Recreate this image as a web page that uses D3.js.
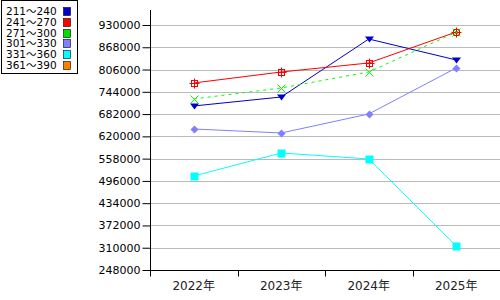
<!DOCTYPE html>
<html>
<head>
<meta charset="utf-8">
<script src="https://cdn.jsdelivr.net/npm/d3@7"></script>
<style>
  body { margin: 0; background: #fff; }
  svg { display: block; font-family: "DejaVu Sans", "Noto Sans CJK JP", sans-serif; }
</style>
</head>
<body>
<svg id="chart" width="500" height="300"></svg>
<script>
"use strict";

// categories and values
const years = ["2022年", "2023年", "2024年", "2025年"];
const yTicks = [248000, 310000, 372000, 434000, 496000, 558000, 620000, 682000, 744000, 806000, 868000, 930000];

const seriesNames = ["211～240", "241～270", "271～300", "301～330", "331～360", "361～390"];
const seriesColors = ["#0000cc", "#ff0000", "#00dd00", "#8080ff", "#00ffff", "#ff8000"];

const s211 = [704600, 729600, 891000, 832600];
const s241 = [768600, 799200, 824300, 910600];
const s271 = [724100, 754700, 799200, 910000];
const s301 = [640500, 629400, 682300, 810400];
const s331 = [509700, 573700, 557000, 314800];
const s361 = [];

const seriesValues = [s211, s241, s271, s301, s331, s361];
const markers = ["triDown", "squarePlus", "cross", "diamond", "square", "none"];

const svg = d3.select("#chart");
const plotLeft = 150, plotRight = 500, plotBottom = 270, plotTop = 10;

const x = d3.scaleBand().domain(years).range([plotLeft, plotRight]);
// 11 steps of 62000 between 248000 and 930000 span 245 px
const y = d3.scaleLinear().domain([248000, 930000]).range([plotBottom, 25]);

// grid lines
svg.append("g")
  .selectAll("line")
  .data(yTicks.slice(1))
  .join("line")
  .attr("x1", plotLeft).attr("x2", plotRight)
  .attr("y1", d => Math.round(y(d)) + 0.5).attr("y2", d => Math.round(y(d)) + 0.5)
  .attr("stroke", "#bbbbbb");

// y axis
const yAxis = svg.append("g").attr("transform", `translate(${plotLeft + 0.5},0)`)
  .call(d3.axisLeft(y).tickValues(yTicks).tickSize(8).tickSizeOuter(0).tickFormat(d3.format("d")));
yAxis.select(".domain").remove();
yAxis.append("line").attr("y1", plotTop).attr("y2", plotBottom).attr("stroke", "#000");
yAxis.selectAll(".tick line").attr("stroke", "#000");
yAxis.selectAll(".tick text").attr("font-size", 11).attr("fill", "#000").attr("x", -10)
  .attr("font-family", "DejaVu Sans");

// x axis
const xAxis = svg.append("g").attr("transform", `translate(0,${plotBottom + 0.5})`);
xAxis.append("line").attr("x1", plotLeft).attr("x2", plotRight).attr("stroke", "#000");
xAxis.selectAll(".xt")
  .data(years)
  .join("line")
  .attr("x1", d => Math.round(x(d)) + 0.5).attr("x2", d => Math.round(x(d)) + 0.5)
  .attr("y1", 0).attr("y2", 6).attr("stroke", "#000");
xAxis.selectAll("text")
  .data(years)
  .join("text")
  .attr("x", d => x(d) + x.bandwidth() / 2)
  .attr("y", 19)
  .attr("text-anchor", "middle")
  .attr("font-size", 12)
  .attr("fill", "#222")
  .text(d => d);

// series lines and markers
const line = d3.line().x((d, i) => x(years[i]) + x.bandwidth() / 2).y(d => y(d));

seriesValues.forEach((vals, k) => {
  if (!vals.length) return;
  const color = seriesColors[k];
  const lineColor = k === 2 ? "#00ff00" : color;
  svg.append("path")
    .datum(vals)
    .attr("d", line)
    .attr("fill", "none")
    .attr("stroke", lineColor)
    .attr("stroke-width", 1)
    .attr("stroke-dasharray", k === 2 ? "3,4" : null);

  const g = svg.append("g");
  vals.forEach((v, i) => {
    const cx = Math.round(x(years[i]) + x.bandwidth() / 2) + 0.5, cy = Math.round(y(v)) + 0.5;
    const m = markers[k];
    if (m === "triDown") {
      g.append("path").attr("d", `M${cx - 4.5},${cy - 3}L${cx + 4.5},${cy - 3}L${cx},${cy + 3}Z`).attr("fill", lineColor);
    } else if (m === "squarePlus") {
      g.append("rect").attr("x", cx - 3).attr("y", cy - 3).attr("width", 6).attr("height", 6)
        .attr("fill", "none").attr("stroke", lineColor);
      g.append("path").attr("d", `M${cx - 5},${cy}H${cx + 5}M${cx},${cy - 5}V${cy + 5}`).attr("stroke", lineColor);
    } else if (m === "cross") {
      g.append("path").attr("d", `M${cx - 4},${cy - 4}L${cx + 4},${cy + 4}M${cx - 4},${cy + 4}L${cx + 4},${cy - 4}`).attr("stroke", lineColor);
    } else if (m === "diamond") {
      g.append("path").attr("d", `M${cx},${cy - 4}L${cx + 4},${cy}L${cx},${cy + 4}L${cx - 4},${cy}Z`).attr("fill", lineColor);
    } else if (m === "square") {
      g.append("rect").attr("x", cx - 4).attr("y", cy - 4).attr("width", 8).attr("height", 8).attr("fill", lineColor);
    }
  });
});

// legend
const lg = svg.append("g");
lg.append("rect").attr("x", 1.5).attr("y", 0.5).attr("width", 76).attr("height", 73)
  .attr("fill", "#fff").attr("stroke", "#000");
seriesNames.forEach((name, i) => {
  const ry = 11 + i * 10.8;
  lg.append("text").attr("x", 6).attr("y", ry + 4).attr("font-size", 10.5).attr("fill", "#000").text(name);
  lg.append("rect").attr("x", 63.5).attr("y", Math.round(ry - 4) + 0.5).attr("width", 7).attr("height", 8)
    .attr("fill", seriesColors[i]).attr("stroke", "#000").attr("stroke-width", 0.6);
});
</script>
</body>
</html>
